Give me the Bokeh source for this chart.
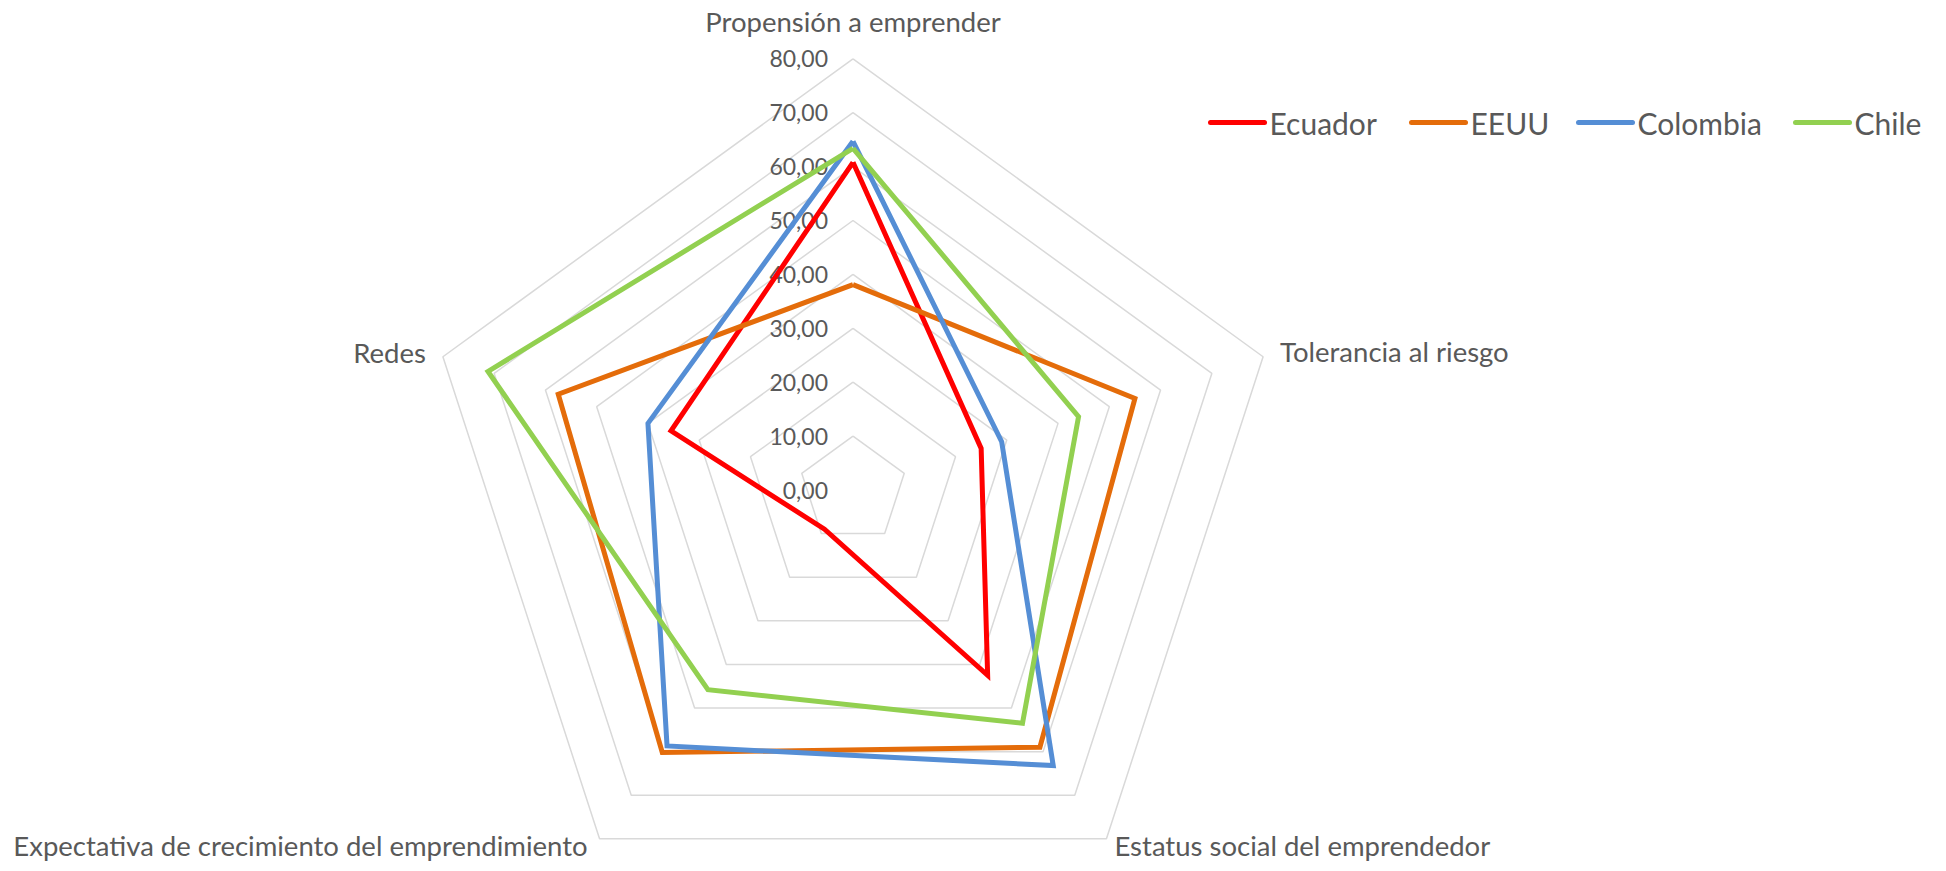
import numpy as np
from bokeh.plotting import figure
from bokeh.models import Range1d
from bokeh.core.properties import value
from bokeh.embed import file_html
from bokeh.resources import INLINE

# ---- data ----
categories = ["Propensión a emprender", "Tolerancia al riesgo", "Estatus social del emprendedor",
              "Expectativa de crecimiento del emprendimiento", "Redes"]
series_names = ["Ecuador", "EEUU", "Colombia", "Chile"]
ecuador = [60.8, 25.0, 42.5, 9.0, 35.5]
eeuu = [38.1, 55.0, 59.0, 60.2, 57.5]
colombia = [64.7, 29.0, 63.2, 58.7, 40.0]
chile = [63.4, 44.0, 53.5, 45.8, 71.2]
tick_values = [0, 10, 20, 30, 40, 50, 60, 70, 80]
tick_labels = ["0,00", "10,00", "20,00", "30,00", "40,00", "50,00", "60,00", "70,00", "80,00"]

colors = ["#FF0000", "#E46C0A", "#558ED5", "#92D050"]
series = [ecuador, eeuu, colombia, chile]

# ---- layout ----
W, H = 1938, 863
S = 5.39                 # px per unit
CX, CY = 852.5, 489.5    # center in canvas px (from top-left)
FONT = "Lato"
TXT = "#595959"

p = figure(width=W, height=H, output_backend="svg", toolbar_location=None,
           x_range=Range1d(-CX / S, (W - CX) / S), y_range=Range1d(-(H - CY) / S, CY / S),
           min_border=0, outline_line_color=None)
p.axis.visible = False
p.grid.visible = False
p.background_fill_color = "white"
p.border_fill_color = "white"

n = len(categories)
theta = np.deg2rad(90 - 72 * np.arange(n))
ct, st = np.cos(theta), np.sin(theta)

def px(d):
    return d / S

# grid rings
for tv in tick_values[1:]:
    xs = list(tv * ct) + [tv * ct[0]]
    ys = list(tv * st) + [tv * st[0]]
    p.line(xs, ys, line_color="#D9D9D9", line_width=1.5)

# tick labels
p.text(x=[px(-25)] * len(tick_values), y=tick_values, text=tick_labels,
       text_font=value(FONT), text_font_size="23px", text_color=TXT,
       text_align="right", text_baseline="middle")

# series
for vals, col in zip(series, colors):
    v = np.array(vals)
    xs = list(v * ct) + [v[0] * ct[0]]
    ys = list(v * st) + [v[0] * st[0]]
    p.line(xs, ys, line_color=col, line_width=5, line_join="miter")

# category labels
R = tick_values[-1]
offs = [(0, 37, "center"), (17, 5, "left"), (8, -7, "left"), (-12, -7, "right"), (-17, 4, "right")]
for k, (dx, dy, al) in enumerate(offs):
    p.text(x=[R * ct[k] + px(dx)], y=[R * st[k] + px(dy)], text=[categories[k]],
           text_font=value(FONT), text_font_size="27.5px", text_color=TXT,
           text_align=al, text_baseline="middle")

# legend
leg_y = CY - 122
line_x0 = [1210, 1411, 1578, 1795]
for name, col, x0 in zip(series_names, colors, line_x0):
    p.line([px(x0 - CX), px(x0 + 54 - CX)], [px(leg_y), px(leg_y)], line_color=col,
           line_width=5, line_cap="round")
    p.text(x=[px(x0 + 59 - CX)], y=[px(leg_y)], text=[name], text_font=value(FONT),
           text_font_size="30px", text_color=TXT, text_align="left", text_baseline="middle")

open("out.html", "w").write(file_html(p, INLINE))
